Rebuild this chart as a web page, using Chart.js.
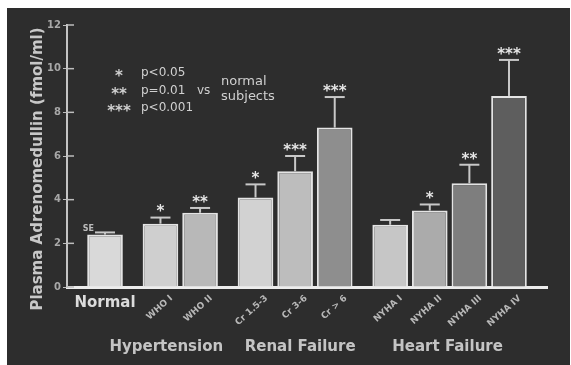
<!DOCTYPE html>
<html>
<head>
<meta charset="utf-8">
<script src="https://cdn.jsdelivr.net/npm/chart.js@4.4.1/dist/chart.umd.min.js"></script>
<style>
  html, body { margin: 0; padding: 0; background: #ffffff; }
  #wrap { width: 571px; height: 365px; }
</style>
</head>
<body>
<div id="wrap"><canvas id="c" width="571" height="365"></canvas></div>
<script>
// ---- data ----
const categories = ['Normal', 'WHO I', 'WHO II', 'Cr 1.5-3', 'Cr 3-6', 'Cr > 6', 'NYHA I', 'NYHA II', 'NYHA III', 'NYHA IV'];
const groupOf = [0, 1, 1, 2, 2, 2, 3, 3, 3, 3];
const groupNames = ['', 'Hypertension', 'Renal Failure', 'Heart Failure'];
const means = [2.4, 2.9, 3.4, 4.1, 5.3, 7.3, 2.85, 3.5, 4.75, 8.75];
const sems = [0.1, 0.28, 0.22, 0.6, 0.7, 1.4, 0.22, 0.28, 0.85, 1.65];
const significance = ['', '*', '**', '*', '***', '***', '', '*', '**', '***'];
const yTicks = [0, 2, 4, 6, 8, 10, 12];
const legendStars = ['*', '**', '***'];
const legendTexts = ['p<0.05', 'p=0.01', 'p<0.001'];
const yTitle = 'Plasma Adrenomedullin (fmol/ml)';

// ---- styles ----
const barColors = ['#d9d9d9', '#cfcfcf', '#b8b8b8', '#d2d2d2', '#bdbdbd', '#8e8e8e', '#c6c6c6', '#ababab', '#7e7e7e', '#5e5e5e'];
const GAP = 0.4;
const FONT = '"DejaVu Sans", "Liberation Sans", sans-serif';

const extras = {
  id: 'extras',
  beforeDraw(chart) {
    const c = chart.ctx;
    c.save();
    c.fillStyle = '#ffffff';
    c.fillRect(0, 0, chart.width, chart.height);
    c.fillStyle = '#2d2d2d';
    c.fillRect(7, 8, 563, 357);
    c.restore();
  },
  afterDatasetsDraw(chart) {
    const { ctx, scales: { x, y } } = chart;
    const meta = chart.getDatasetMeta(0);
    ctx.save();
    // inward tick marks on y axis
    ctx.strokeStyle = '#bdbdbd';
    ctx.lineWidth = 1.5;
    yTicks.forEach(t => {
      const py = y.getPixelForValue(t);
      ctx.beginPath(); ctx.moveTo(x.left, py); ctx.lineTo(x.left + 7, py); ctx.stroke();
    });
    // error bars + significance
    means.forEach((m, i) => {
      const el = meta.data[i];
      const cx = el.x;
      const top = y.getPixelForValue(m);
      const et = y.getPixelForValue(m + sems[i]);
      ctx.strokeStyle = '#c8c8c8';
      ctx.lineWidth = 2;
      ctx.beginPath(); ctx.moveTo(cx, top); ctx.lineTo(cx, et); ctx.stroke();
      ctx.beginPath(); ctx.moveTo(cx - 10, et); ctx.lineTo(cx + 10, et); ctx.stroke();
      if (significance[i]) {
        ctx.fillStyle = '#e6e6e6';
        ctx.font = 'bold 15px ' + FONT;
        ctx.textAlign = 'center';
        ctx.textBaseline = 'middle';
        ctx.fillText(significance[i], cx, et - 5);
      }
    });
    ctx.restore();
  },
  afterDraw(chart) {
    const { ctx, scales: { x, y } } = chart;
    const meta = chart.getDatasetMeta(0);
    ctx.save();
    // y title
    ctx.fillStyle = '#c8c8c8';
    ctx.font = 'bold 15px ' + FONT;
    ctx.textAlign = 'center';
    ctx.textBaseline = 'middle';
    ctx.translate(38, 169);
    ctx.rotate(-Math.PI / 2);
    ctx.fillText(yTitle, 0, 0);
    ctx.setTransform(1, 0, 0, 1, 0, 0);

    // "SE" marker next to the normal bar
    const n0 = meta.data[0];
    ctx.fillStyle = '#bdbdbd';
    ctx.font = 'bold 8px ' + FONT;
    ctx.textAlign = 'right';
    ctx.fillText('SE', n0.x - 11, y.getPixelForValue(means[0] + sems[0]) - 3);

    // category labels
    const base = y.getPixelForValue(0);
    categories.forEach((name, i) => {
      const cx = meta.data[i].x;
      if (groupOf[i] === 0) {
        ctx.fillStyle = '#dcdcdc';
        ctx.font = 'bold 15px ' + FONT;
        ctx.textAlign = 'center';
        ctx.textBaseline = 'middle';
        ctx.fillText(name, cx, base + 16);
      } else {
        ctx.save();
        ctx.fillStyle = '#b8b8b8';
        ctx.font = 'bold 9px ' + FONT;
        ctx.textAlign = 'right';
        ctx.textBaseline = 'middle';
        ctx.translate(cx + 11, base + 10);
        ctx.rotate(-42 * Math.PI / 180);
        ctx.fillText(name, 0, 0);
        ctx.restore();
      }
    });

    // group labels
    const shifts = [0, -14, 5, -2];
    ctx.fillStyle = '#c4c4c4';
    ctx.font = 'bold 15px ' + FONT;
    ctx.textAlign = 'center';
    ctx.textBaseline = 'middle';
    for (let g = 1; g < groupNames.length; g++) {
      const xs = meta.data.filter((_, i) => groupOf[i] === g).map(e => e.x);
      const c = (Math.min(...xs) + Math.max(...xs)) / 2;
      ctx.fillText(groupNames[g], c + shifts[g], base + 60);
    }

    // legend of significance
    ctx.fillStyle = '#d0d0d0';
    const ly = [73, 91, 108];
    legendStars.forEach((s, k) => {
      ctx.font = 'bold 15px ' + FONT;
      ctx.textAlign = 'center';
      ctx.fillText(s, 119, ly[k] + 4);
      ctx.font = '12px ' + FONT;
      ctx.textAlign = 'left';
      ctx.fillText(legendTexts[k], 141, ly[k]);
    });
    ctx.font = '12px ' + FONT;
    ctx.textAlign = 'left';
    ctx.fillText('vs', 197, 91);
    ctx.font = '13px ' + FONT;
    ctx.fillText('normal', 221, 82);
    ctx.fillText('subjects', 221, 97);
    ctx.restore();
  }
};

new Chart(document.getElementById('c'), {
  type: 'bar',
  data: {
    datasets: [{
      data: means.map((v, i) => ({ x: i + GAP * groupOf[i], y: v })),
      backgroundColor: barColors,
      borderColor: '#e4e4e4',
      borderWidth: 2,
      barPercentage: 0.9,
      categoryPercentage: 1.0
    }]
  },
  options: {
    responsive: false,
    devicePixelRatio: 1,
    animation: false,
    layout: { padding: { left: 0, right: 24, top: 25, bottom: 0 } },
    plugins: { legend: { display: false }, tooltip: { enabled: false } },
    scales: {
      x: {
        type: 'linear',
        offset: false,
        min: -0.96,
        max: 11.16,
        ticks: { display: false },
        grid: { display: false, drawTicks: false },
        border: { color: '#ececec', width: 3 },
        afterFit(s) { s.height = 78; }
      },
      y: {
        min: 0,
        max: 12,
        afterBuildTicks(s) { s.ticks = yTicks.map(v => ({ value: v })); },
        ticks: {
          color: '#a8a8a8',
          font: { family: FONT, size: 10, weight: 'bold' },
          padding: 2
        },
        grid: { drawOnChartArea: false, tickLength: 4, color: '#bdbdbd', tickColor: '#bdbdbd' },
        border: { color: '#c4c4c4', width: 2 },
        afterFit(s) { s.width = 67; }
      }
    }
  },
  plugins: [extras]
});
</script>
</body>
</html>
